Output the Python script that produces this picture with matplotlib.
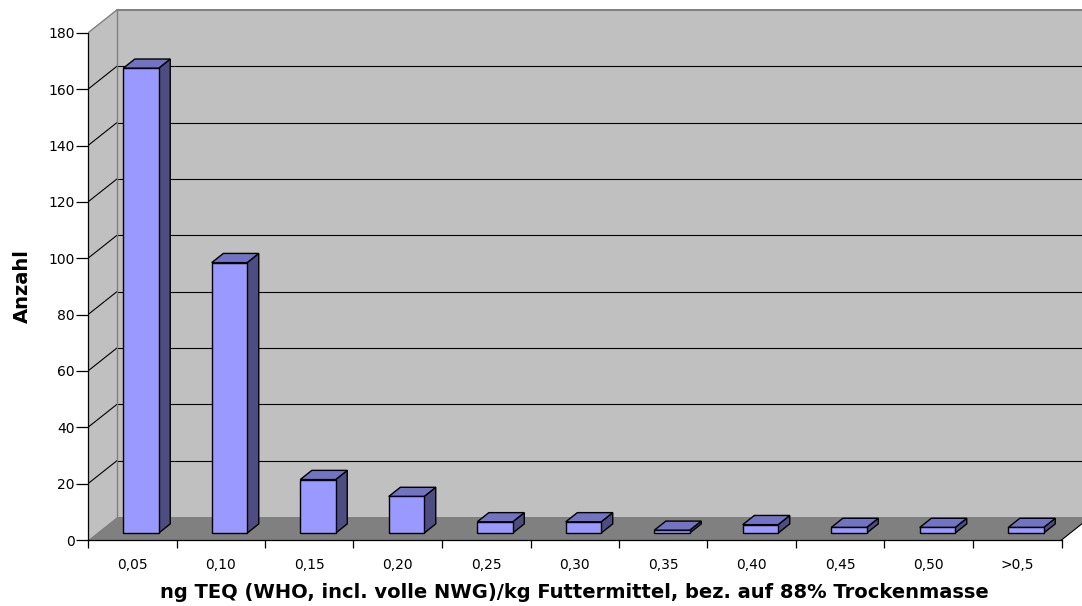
import matplotlib
matplotlib.use("Agg")
import matplotlib.pyplot as plt
from matplotlib.patches import Polygon

# ---- data ----
categories = ["0,05", "0,10", "0,15", "0,20", "0,25", "0,30", "0,35", "0,40", "0,45", "0,50", ">0,5"]
counts = [165, 96, 19, 13, 4, 4, 1, 3, 2, 2, 2]
y_ticks = [0, 20, 40, 60, 80, 100, 120, 140, 160, 180]
x_label = "ng TEQ (WHO, incl. volle NWG)/kg Futtermittel, bez. auf 88% Trockenmasse"
y_label = "Anzahl"

plt.rcParams['font.family'] = ['DejaVu Sans']

W, H = 1082, 606
fig = plt.figure(figsize=(W / 100, H / 100), dpi=100)

# pixel geometry of the plot frame
px0, px_cat = 88, 88.5            # left axis position, pixels per category
py0, px_unit = 66, 56.35 / 20     # y=0 position (from bottom), pixels per unit
xmax = (W - px0) / px_cat
ymax = (H - py0) / px_unit
ax = fig.add_axes([px0 / W, py0 / H, 1 - px0 / W, 1 - py0 / H])
ax.set_xlim(0, xmax)
ax.set_ylim(0, ymax)

DX = 29 / px_cat      # depth offset in category units
DY = 23 / px_unit     # depth offset in value units
n = len(categories)
top = y_ticks[-1]

wall = "#C0C0C0"
floor = "#808080"
edge_gray = "#808080"

# back wall
ax.add_patch(Polygon([(DX, DY), (xmax + 1, DY), (xmax + 1, top + DY), (DX, top + DY)],
                     closed=True, facecolor=wall, edgecolor="none", zorder=1))
# left wall
ax.add_patch(Polygon([(0, 0), (DX, DY), (DX, top + DY), (0, top)],
                     closed=True, facecolor=wall, edgecolor="none", zorder=1))
# gridlines
for v in y_ticks[1:-1]:
    ax.plot([DX, xmax + 1], [v + DY, v + DY], color="black", lw=0.8, zorder=2, solid_capstyle="butt")
    ax.plot([0, DX], [v, v + DY], color="black", lw=0.8, zorder=2)
# wall edges
ax.plot([DX, DX], [DY, top + DY], color=edge_gray, lw=1.0, zorder=2)
ax.plot([0, DX], [top, top + DY], color=edge_gray, lw=1.0, zorder=2)
ax.plot([DX, xmax + 1], [top + DY, top + DY], color=edge_gray, lw=1.4, zorder=2)
# floor
ax.add_patch(Polygon([(0, 0), (n, 0), (n + DX, DY), (DX, DY)],
                     closed=True, facecolor=floor, edgecolor="none", zorder=3))
ax.plot([n, n + DX], [0, DY], color="black", lw=0.8, zorder=3)

# bars
f0, f1 = 0.3, 0.7
front_c, top_c, side_c = "#9999FF", "#7373C4", "#4D4D82"
for i, v in enumerate(counts):
    x0, x1 = i + 0.3, i + 0.7
    ax0, ay0 = f0 * DX, f0 * DY
    ax1, ay1 = f1 * DX, f1 * DY
    z = 4 + i * 0.01
    ax.add_patch(Polygon([(x1 + ax0, ay0), (x1 + ax1, ay1), (x1 + ax1, v + ay1), (x1 + ax0, v + ay0)],
                         closed=True, facecolor=side_c, edgecolor="black", lw=1.0, zorder=z))
    ax.add_patch(Polygon([(x0 + ax0, v + ay0), (x1 + ax0, v + ay0), (x1 + ax1, v + ay1), (x0 + ax1, v + ay1)],
                         closed=True, facecolor=top_c, edgecolor="black", lw=1.0, zorder=z))
    ax.add_patch(Polygon([(x0 + ax0, ay0), (x1 + ax0, ay0), (x1 + ax0, v + ay0), (x0 + ax0, v + ay0)],
                         closed=True, facecolor=front_c, edgecolor="black", lw=1.0, zorder=z))

# axes / spines
for s in ["top", "right"]:
    ax.spines[s].set_visible(False)
ax.spines["left"].set_bounds(0, top)
ax.spines["bottom"].set_bounds(0, n)
for s in ["left", "bottom"]:
    ax.spines[s].set_linewidth(0.9)
    ax.spines[s].set_zorder(6)
ax.set_yticks(y_ticks)
ax.set_yticklabels([str(v) for v in y_ticks], fontsize=10)
ax.tick_params(axis="y", direction="out", length=8.5, width=0.9, pad=1)
ax.set_xticks(range(n + 1))
ax.set_xticklabels([])
ax.set_xticks([i + 0.5 for i in range(n)], minor=True)
ax.set_xticklabels(categories, minor=True, fontsize=10)
ax.tick_params(axis="x", which="major", direction="out", length=6, width=0.9)
ax.tick_params(axis="x", which="minor", length=0, pad=13)
ax.set_facecolor("white")

fig.text(574 / W, 1 - 592 / H, x_label, ha="center", va="center", fontsize=14, fontweight="bold")
fig.text(22 / W, 1 - 286 / H, y_label, ha="center", va="center", rotation=90, fontsize=14, fontweight="bold")

fig.savefig("out.png", dpi=100)
